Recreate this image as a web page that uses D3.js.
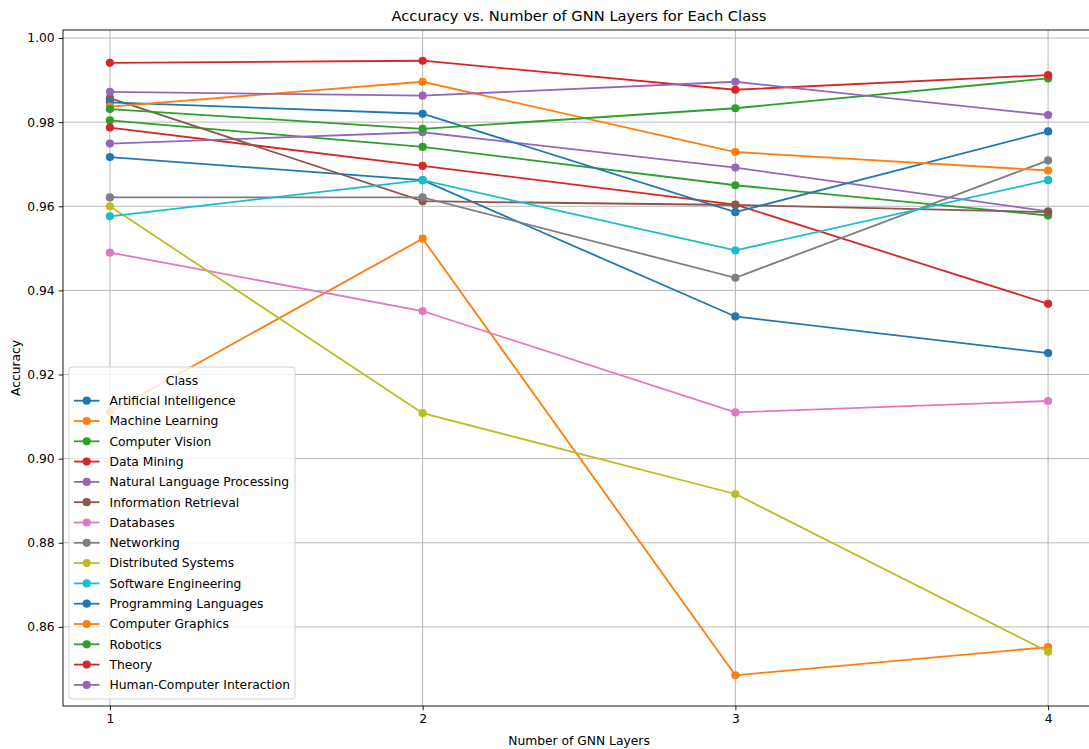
<!DOCTYPE html>
<html>
<head>
<meta charset="utf-8">
<script src="https://cdn.jsdelivr.net/npm/d3@7"></script>
<style>
	body{margin:0;background:#fff;}
	svg{font-family:"DejaVu Sans",sans-serif;}
</style>
</head>
<body>
<svg id="chart" width="1089" height="749"></svg>
<script>
// layers on the x axis
var layers=[1,2,3,4];
var classNames=["Artificial Intelligence","Machine Learning","Computer Vision","Data Mining","Natural Language Processing","Information Retrieval","Databases","Networking","Distributed Systems","Software Engineering","Programming Languages","Computer Graphics","Robotics","Theory","Human-Computer Interaction"];

// accuracy per class, one value per layer count
var artificialIntelligence=[0.9717,0.9662,0.9338,0.9251];
var machineLearning=[0.9111,0.9523,0.8485,0.8552];
var computerVision=[0.9804,0.9741,0.9650,0.9578];
var dataMining=[0.9787,0.9696,0.9604,0.9368];
var naturalLanguageProcessing=[0.9749,0.9776,0.9692,0.9588];
var informationRetrieval=[0.9857,0.9612,0.9603,0.9586];
var databases=[0.9490,0.9351,0.9110,0.9137];
var networking=[0.9621,0.9621,0.9430,0.9709];
var distributedSystems=[0.9600,0.9108,0.8916,0.8541];
var softwareEngineering=[0.9576,0.9662,0.9495,0.9662];
var programmingLanguages=[0.9847,0.9820,0.9586,0.9778];
var computerGraphics=[0.9837,0.9896,0.9729,0.9685];
var robotics=[0.9831,0.9784,0.9833,0.9904];
var theory=[0.9941,0.9946,0.9877,0.9912];
var humanComputerInteraction=[0.9872,0.9863,0.9896,0.9817];

var yTicks=[0.86,0.88,0.90,0.92,0.94,0.96,0.98,1.00];

var seriesValues=[artificialIntelligence,machineLearning,computerVision,dataMining,naturalLanguageProcessing,informationRetrieval,databases,networking,distributedSystems,softwareEngineering,programmingLanguages,computerGraphics,robotics,theory,humanComputerInteraction];

var series=classNames.map(function(name,i){
	return {name:name,values:seriesValues[i].map(function(v,j){ return {layer:layers[j],acc:v}; })};
});

var svg=d3.select("#chart");
var plot={left:63,right:1095,top:30,bottom:706};
var color=d3.scaleOrdinal(d3.schemeCategory10);
var fontSize=12.3;

// matplotlib style 5% margins
var allVals=d3.merge(seriesValues);
var yMin=d3.min(allVals),yMax=d3.max(allVals),yPad=(yMax-yMin)*0.05;
var xPad=(d3.max(layers)-d3.min(layers))*0.05;

var x=d3.scaleLinear()
	.domain([d3.min(layers)-xPad,d3.max(layers)+xPad])
	.range([plot.left,plot.right]);
var y=d3.scaleLinear()
	.domain([yMin-yPad,yMax+yPad])
	.range([plot.bottom,plot.top]);

svg.append("defs").append("clipPath").attr("id","plotClip")
	.append("rect")
	.attr("x",plot.left).attr("y",plot.top)
	.attr("width",plot.right-plot.left).attr("height",plot.bottom-plot.top);

//grid
var grid=svg.append("g").attr("class","grid").attr("clip-path","url(#plotClip)");
grid.selectAll(".gx").data(layers).enter().append("line")
	.attr("x1",function(d){ return x(d); }).attr("x2",function(d){ return x(d); })
	.attr("y1",plot.top).attr("y2",plot.bottom)
	.attr("stroke","#b0b0b0").attr("stroke-width",0.9);
grid.selectAll(".gy").data(yTicks).enter().append("line")
	.attr("x1",plot.left).attr("x2",plot.right)
	.attr("y1",function(d){ return y(d); }).attr("y2",function(d){ return y(d); })
	.attr("stroke","#b0b0b0").attr("stroke-width",0.9);

//axes
var xAxis=d3.axisBottom(x).tickValues(layers).tickFormat(d3.format("d")).tickSize(4.3).tickPadding(4);
var yAxis=d3.axisLeft(y).tickValues(yTicks).tickFormat(d3.format(".2f")).tickSize(4.3).tickPadding(4);

var gx=svg.append("g").attr("transform","translate(0,"+plot.bottom+")").call(xAxis);
var gy=svg.append("g").attr("transform","translate("+plot.left+",0)").call(yAxis);
[gx,gy].forEach(function(g){
	g.select(".domain").remove();
	g.selectAll("text").attr("font-size",fontSize).attr("fill","#000").attr("font-family","DejaVu Sans");
	g.selectAll("line").attr("stroke","#000").attr("stroke-width",0.9);
});

//lines and markers
var line=d3.line()
	.x(function(d){ return x(d.layer); })
	.y(function(d){ return y(d.acc); });

var lines=svg.append("g").attr("clip-path","url(#plotClip)");
series.forEach(function(s,i){
	var g=lines.append("g").attr("class","series");
	g.append("path")
		.datum(s.values)
		.attr("d",line)
		.attr("fill","none")
		.attr("stroke",color(i))
		.attr("stroke-width",1.8);
	g.selectAll("circle").data(s.values).enter().append("circle")
		.attr("cx",function(d){ return x(d.layer); })
		.attr("cy",function(d){ return y(d.acc); })
		.attr("r",4.1)
		.attr("fill",color(i));
});

//frame
svg.append("rect")
	.attr("x",plot.left).attr("y",plot.top)
	.attr("width",plot.right-plot.left).attr("height",plot.bottom-plot.top)
	.attr("fill","none").attr("stroke","#000").attr("stroke-width",0.9);

//title and labels
var cx=(plot.left+plot.right)/2;
svg.append("text").attr("x",cx).attr("y",21)
	.attr("text-anchor","middle").attr("font-size",14.7)
	.text("Accuracy vs. Number of GNN Layers for Each Class");
svg.append("text").attr("x",cx).attr("y",745)
	.attr("text-anchor","middle").attr("font-size",fontSize)
	.text("Number of GNN Layers");
svg.append("text")
	.attr("transform","translate(20,"+((plot.top+plot.bottom)/2)+") rotate(-90)")
	.attr("text-anchor","middle").attr("font-size",fontSize)
	.text("Accuracy");

//legend
var legend=svg.append("g").attr("transform","translate(69,367)");
legend.append("rect")
	.attr("width",226).attr("height",332)
	.attr("rx",3).attr("ry",3)
	.attr("fill","#fff").attr("fill-opacity",0.8)
	.attr("stroke","#cccccc").attr("stroke-width",0.9);
legend.append("text").attr("x",113).attr("y",18)
	.attr("text-anchor","middle").attr("font-size",fontSize)
	.text("Class");
var item=legend.selectAll(".item").data(series).enter().append("g")
	.attr("class","item")
	.attr("transform",function(d,i){ return "translate(0,"+(33.7+i*20.3)+")"; });
item.append("line")
	.attr("x1",5).attr("x2",30.5)
	.attr("stroke",function(d,i){ return color(i); })
	.attr("stroke-width",1.8);
item.append("circle")
	.attr("cx",17.7).attr("r",4.1)
	.attr("fill",function(d,i){ return color(i); });
item.append("text")
	.attr("x",40.5).attr("dy","0.35em")
	.attr("font-size",fontSize)
	.text(function(d){ return d.name; });
</script>
</body>
</html>
